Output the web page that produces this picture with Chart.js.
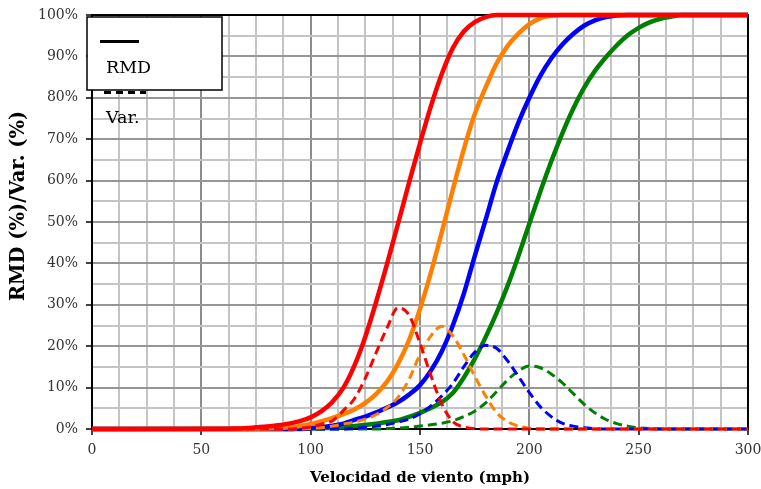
<!DOCTYPE html>
<html>
<head>
<meta charset="utf-8">
<script src="https://cdn.jsdelivr.net/npm/chart.js@4.4.0/dist/chart.umd.min.js"></script>
<style>
  html, body { margin: 0; padding: 0; background: #fff; }
  #wrap { width: 761px; height: 489px; }
</style>
</head>
<body>
<div id="wrap"><canvas id="c" width="761" height="489"></canvas></div>
<script>
// Wind speed (mph) at which each curve is sampled
const speeds = [0, 60, 65, 70, 75, 80, 85, 90, 95, 100, 105, 110, 115, 120, 125, 130, 135, 140, 145, 150,
  155, 160, 165, 170, 175, 180, 185, 190, 195, 200, 205, 210, 215, 220, 225, 230, 235, 240, 245, 250,
  255, 260, 265, 270, 285, 300];

// RMD (%) – cumulative damage ratio curves
const rmdRed    = [0, 0.05, 0.1, 0.2, 0.4, 0.6, 0.9, 1.3, 1.9, 2.8, 4.3, 6.6, 10, 15.3, 22.3, 30.8, 40, 49.7, 59.5, 69,
  78, 85.8, 92, 96, 98.3, 99.5, 100, 100, 100, 100, 100, 100, 100, 100, 100, 100, 100, 100, 100, 100,
  100, 100, 100, 100, 100, 100];
const rmdOrange = [0, 0, 0, 0.05, 0.1, 0.15, 0.25, 0.4, 0.7, 1.2, 1.9, 2.7, 3.6, 4.7, 6.3, 8.5, 11.5, 15.8, 21.5, 29,
  37.8, 47.6, 57.8, 67.5, 76, 82.5, 88.3, 92.5, 95.5, 97.8, 99.2, 99.8, 100, 100, 100, 100, 100, 100, 100, 100,
  100, 100, 100, 100, 100, 100];
const rmdBlue   = [0, 0, 0, 0, 0, 0, 0, 0, 0.1, 0.25, 0.45, 0.8, 1.3, 2.2, 3.0, 4.0, 5.2, 6.5, 8.3, 10.6,
  14.1, 18.8, 25, 32.6, 41.7, 50.5, 59.5, 67, 74, 80, 85.3, 89.5, 92.8, 95.4, 97.4, 98.7, 99.5, 99.9, 100, 100,
  100, 100, 100, 100, 100, 100];
const rmdGreen  = [0, 0, 0, 0, 0, 0, 0, 0, 0, 0.1, 0.2, 0.3, 0.5, 0.7, 1.0, 1.3, 1.7, 2.1, 2.9, 3.9,
  5.1, 6.5, 8.7, 12.4, 16.9, 22.2, 28, 34.5, 41.8, 49.6, 57.3, 64.6, 71.3, 77.3, 82.4, 86.5, 89.8, 92.7, 95.1, 96.9,
  98.2, 99.1, 99.6, 100, 100, 100];

// Var. (%) – bell-shaped companion curves
const varRed    = [0, 0, 0, 0, 0, 0, 0, 0, 0.2, 0.5, 1.2, 2.0, 4.5, 7.3, 12.3, 18.5, 24.5, 29.3, 27.5, 20.7,
  12.9, 6, 1.8, 0.5, 0.1, 0, 0, 0, 0, 0, 0, 0, 0, 0, 0, 0, 0, 0, 0, 0,
  0, 0, 0, 0, 0, 0];
const varOrange = [0, 0, 0, 0, 0, 0, 0, 0, 0, 0.1, 0.3, 0.7, 1.2, 1.7, 2.4, 3.5, 5.2, 7.7, 12, 18,
  22.5, 24.8, 22.5, 18, 12.8, 8, 4.0, 1.8, 0.7, 0.2, 0, 0, 0, 0, 0, 0, 0, 0, 0, 0,
  0, 0, 0, 0, 0, 0];
const varBlue   = [0, 0, 0, 0, 0, 0, 0, 0, 0, 0, 0, 0, 0, 0.2, 0.4, 0.7, 1.1, 1.7, 2.4, 3.7,
  5.6, 8, 11, 15, 18.5, 20.2, 19.5, 16.5, 12.7, 8.8, 5.4, 3, 1.4, 0.7, 0.3, 0.1, 0, 0, 0, 0,
  0, 0, 0, 0, 0, 0];
const varGreen  = [0, 0, 0, 0, 0, 0, 0, 0, 0, 0, 0, 0, 0, 0, 0, 0, 0.1, 0.2, 0.4, 0.7,
  1.0, 1.4, 2.0, 3.0, 4.3, 6.3, 9, 11.8, 14, 15.2, 14.8, 13.3, 11.2, 8.6, 6.0, 3.9, 2.3, 1.3, 0.7, 0.3,
  0.1, 0, 0, 0, 0, 0];

// Axis settings and labels
const xMin = 0, xMax = 300, xLabelStep = 50, xGridStep = 12.5;
const yMin = 0, yMax = 100, yLabelStep = 10, yGridStep = 5;
const xTitle = 'Velocidad de viento (mph)';
const yTitle = 'RMD (%)/Var. (%)';
const legendNames = ['RMD', 'Var.'];

const colors = { red: '#ff0000', orange: '#ff8000', blue: '#0000ff', green: '#008000' };
const SERIF = '"DejaVu Serif", "Liberation Serif", serif';

const pts = vals => speeds.map((s, i) => ({ x: s, y: vals[i] }));

function solid(label, vals, color, order) {
  return { label, data: pts(vals), borderColor: color, backgroundColor: color, borderWidth: 4.5,
    pointRadius: 0, cubicInterpolationMode: 'monotone', fill: false, clip: 6, order };
}
function dashed(label, vals, color, order) {
  return { label, data: pts(vals), borderColor: color, backgroundColor: color, borderWidth: 3,
    borderDash: [9, 5], pointRadius: 0, cubicInterpolationMode: 'monotone', fill: false, clip: 6, order };
}

// Plot-area frame, rotated y title and the boxed legend
const decorations = {
  id: 'decorations',
  beforeDatasetsDraw(chart) {
    const { ctx, chartArea: a } = chart;
    ctx.save();
    ctx.strokeStyle = '#000';
    ctx.lineWidth = 2;
    ctx.strokeRect(a.left, a.top, a.right - a.left, a.bottom - a.top);
    ctx.restore();
  },
  afterDraw(chart) {
    const { ctx } = chart;
    ctx.save();
    // y axis title
    ctx.translate(19, 206);
    ctx.rotate(-Math.PI / 2);
    ctx.font = 'bold 19.5px ' + SERIF;
    ctx.fillStyle = '#000';
    ctx.textAlign = 'center';
    ctx.textBaseline = 'middle';
    ctx.fillText(yTitle, 0, 0);
    ctx.restore();

    ctx.save();
    // Var. entry (sits below the box)
    ctx.strokeStyle = '#000';
    ctx.lineWidth = 3;
    ctx.setLineDash([7, 5]);
    ctx.beginPath();
    ctx.moveTo(104, 92.5);
    ctx.lineTo(146, 92.5);
    ctx.stroke();
    ctx.setLineDash([]);
    // legend box
    ctx.fillStyle = '#fff';
    ctx.fillRect(87, 17, 135, 73);
    ctx.lineWidth = 1.5;
    ctx.strokeRect(87, 17, 135, 73);
    // RMD entry
    ctx.lineWidth = 3;
    ctx.beginPath();
    ctx.moveTo(100, 41.5);
    ctx.lineTo(139, 41.5);
    ctx.stroke();
    ctx.font = '17.5px ' + SERIF;
    ctx.fillStyle = '#000';
    ctx.textAlign = 'left';
    ctx.textBaseline = 'alphabetic';
    ctx.fillText(legendNames[0], 106, 73);
    ctx.fillText(legendNames[1], 106, 123);
    ctx.restore();
  }
};

new Chart(document.getElementById('c'), {
  type: 'line',
  data: {
    datasets: [
      solid('RMD', rmdGreen, colors.green, 8),
      dashed('Var.', varGreen, colors.green, 7),
      solid('RMD', rmdBlue, colors.blue, 6),
      dashed('Var.', varBlue, colors.blue, 5),
      solid('RMD', rmdOrange, colors.orange, 4),
      dashed('Var.', varOrange, colors.orange, 3),
      solid('RMD', rmdRed, colors.red, 2),
      dashed('Var.', varRed, colors.red, 1)
    ]
  },
  plugins: [decorations],
  options: {
    responsive: false,
    animation: false,
    devicePixelRatio: 1,
    layout: { padding: { left: 0, right: 13, top: 15, bottom: 0 } },
    plugins: { legend: { display: false }, tooltip: { enabled: false } },
    scales: {
      x: {
        type: 'linear', min: xMin, max: xMax,
        afterFit(s) { s.height = 60; s.paddingLeft = 0; s.paddingRight = 0; },
        ticks: {
          stepSize: xGridStep, autoSkip: false, maxRotation: 0, padding: 7,
          color: '#333', font: { family: SERIF, size: 14 },
          callback: v => (v % xLabelStep === 0 ? String(v) : '')
        },
        grid: {
          lineWidth: 2, tickLength: 6, tickWidth: 1.5,
          color: c => (c.tick && c.tick.value % xLabelStep === 0 ? '#8c8c8c' : '#c4c4c4'),
          tickColor: c => (c.tick && c.tick.value % xLabelStep === 0 ? '#000' : 'rgba(0,0,0,0)')
        },
        border: { display: false },
        title: { display: true, text: xTitle, color: '#000', font: { family: SERIF, size: 15, weight: 'bold' },
          padding: { top: 0, bottom: 2 } }
      },
      y: {
        type: 'linear', min: yMin, max: yMax,
        afterFit(s) { s.width = 92; s.paddingTop = 0; s.paddingBottom = 0; },
        ticks: {
          stepSize: yGridStep, autoSkip: false, padding: 8,
          color: '#333', font: { family: SERIF, size: 14 },
          callback: v => (v % yLabelStep === 0 ? v + '%' : '')
        },
        grid: {
          lineWidth: 2, tickLength: 6, tickWidth: 1.5,
          color: c => (c.tick && c.tick.value % yLabelStep === 0 ? '#969696' : '#c4c4c4'),
          tickColor: c => (c.tick && c.tick.value % yLabelStep === 0 ? '#000' : 'rgba(0,0,0,0)')
        },
        border: { display: false },
        title: { display: false }
      }
    }
  }
});
</script>
</body>
</html>
